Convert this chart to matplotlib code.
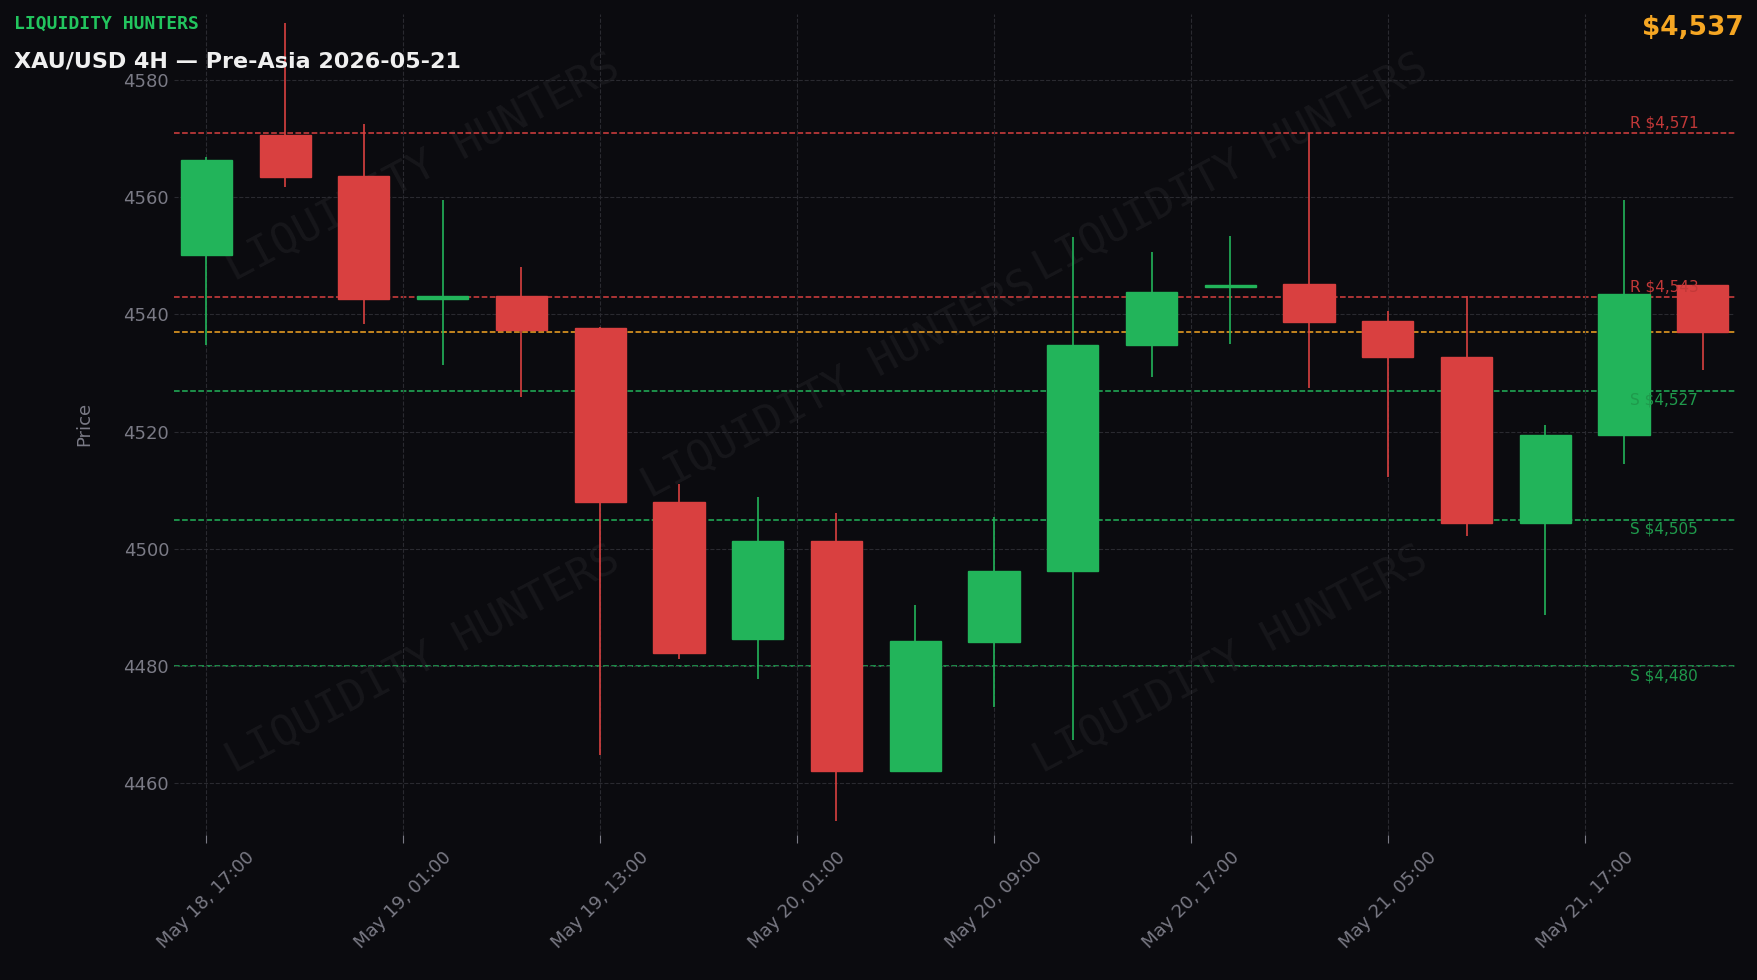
import matplotlib
matplotlib.use("Agg")
import matplotlib.pyplot as plt

# 4H candles (open, high, low, close)
opens  = [4550.2, 4570.6, 4563.6, 4542.7, 4543.1, 4537.6, 4508.0, 4484.6, 4501.3, 4462.1,
          4484.1, 4496.3, 4534.7, 4544.6, 4545.2, 4538.9, 4532.8, 4504.5, 4519.4, 4545.0]
highs  = [4566.8, 4589.7, 4572.5, 4559.6, 4548.1, 4537.8, 4511.0, 4508.9, 4506.2, 4490.4,
          4505.5, 4553.2, 4550.6, 4553.4, 4571.0, 4540.6, 4543.1, 4521.1, 4559.6, 4545.0]
lows   = [4534.7, 4561.7, 4538.3, 4531.3, 4525.9, 4464.8, 4481.2, 4477.8, 4453.5, 4461.9,
          4473.0, 4467.4, 4529.4, 4534.9, 4527.4, 4512.2, 4502.2, 4488.8, 4514.5, 4530.5]
closes = [4566.4, 4563.4, 4542.7, 4543.0, 4537.4, 4508.0, 4482.2, 4501.3, 4462.1, 4484.3,
          4496.3, 4534.7, 4543.9, 4545.0, 4538.7, 4532.8, 4504.5, 4519.4, 4543.5, 4537.0]

tick_pos = [0, 2.5, 5, 7.5, 10, 12.5, 15, 17.5]
tick_labels = ["May 18, 17:00", "May 19, 01:00", "May 19, 13:00", "May 20, 01:00",
               "May 20, 09:00", "May 20, 17:00", "May 21, 05:00", "May 21, 17:00"]

resistance = [4571, 4543]
support = [4527, 4505, 4480]
current = 4537

BG = "#0b0b0f"
GREEN = "#22b45a"
RED = "#d94040"
GRID = "#2a2a30"
TXT = "#7a7a85"

fig = plt.figure(figsize=(17.58, 9.8), dpi=100, facecolor=BG)
ax = fig.add_axes([0.099, 0.148, 0.888, 0.838], facecolor=BG)

for i, (o, h, l, c) in enumerate(zip(opens, highs, lows, closes)):
    col = GREEN if c >= o else RED
    ax.vlines(i, l, h, color=col, linewidth=1.2, zorder=2)
    bottom = min(o, c)
    height = max(abs(c - o), 0.4)
    ax.bar(i, height, bottom=bottom, width=0.65, color=col, edgecolor=col, zorder=3)

for r in resistance:
    ax.axhline(r, color=RED, linestyle="--", linewidth=1.1, zorder=1)
    ax.text(18.08, r + 0.4, f"R ${r:,}", color="#c23838", fontsize=11, va="bottom")
for s in support:
    ax.axhline(s, color=GREEN, linestyle="--", linewidth=1.1, zorder=1)
    ax.text(18.08, s - 0.4, f"S ${s:,}", color="#1f9a4c", fontsize=11, va="top")
ax.axhline(current, color="#f5a623", linestyle="--", linewidth=1.1, zorder=1)

# watermarks
for (x, y) in [(0.029, 0.675), (0.546, 0.675), (0.295, 0.41), (0.029, 0.075), (0.546, 0.075)]:
    ax.text(x, y, "LIQUIDITY HUNTERS", transform=ax.transAxes, rotation=28, fontsize=31,
            color="#ffffff", alpha=0.05, family="DejaVu Sans Mono", zorder=0)

ax.set_xlim(-0.41, 19.41)
ax.set_ylim(4451.2, 4591.3)
ax.set_yticks([4460, 4480, 4500, 4520, 4540, 4560, 4580])
ax.set_xticks(tick_pos)
ax.set_xticklabels(tick_labels, rotation=45, ha="center")
ax.tick_params(colors=TXT, labelsize=13, length=6)
ax.tick_params(axis="y", length=0)
ax.set_ylabel("Price", color=TXT, fontsize=13, labelpad=22)
ax.grid(True, color=GRID, linestyle="--", linewidth=0.8)
for sp in ax.spines.values():
    sp.set_visible(False)

fig.text(0.008, 0.985, "LIQUIDITY HUNTERS", color="#22c55e", fontsize=13, fontweight="bold",
         family="DejaVu Sans Mono", va="top")
fig.text(0.008, 0.947, "XAU/USD 4H — Pre-Asia 2026-05-21", color="#f0f0f0", fontsize=16,
         fontweight="bold", va="top")
fig.text(0.992, 0.985, f"${current:,}", color="#f5a623", fontsize=19, fontweight="bold",
         ha="right", va="top")

fig.savefig("out.png", dpi=100, facecolor=BG)
